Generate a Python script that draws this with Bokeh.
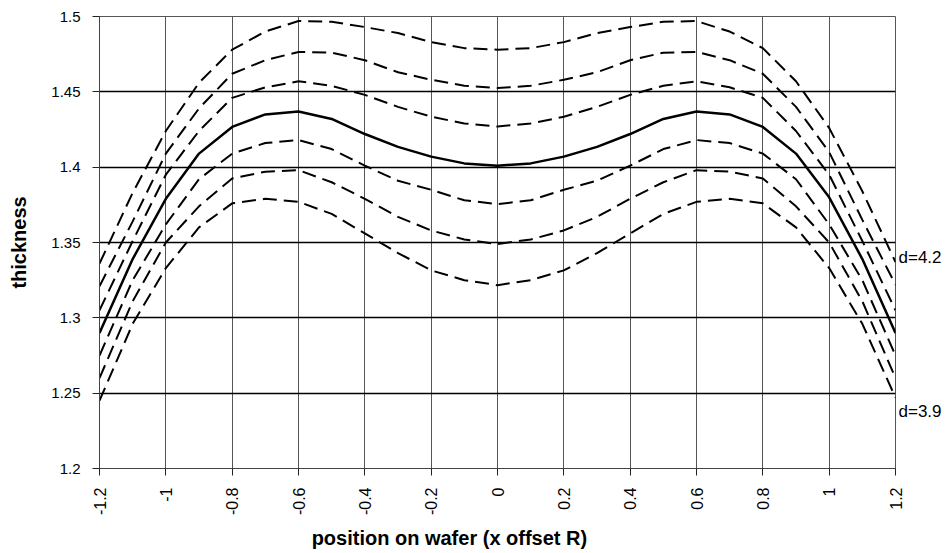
import math
from bokeh.plotting import figure
from bokeh.models import Range1d, FixedTicker, LinearAxis
from bokeh.embed import file_html
from bokeh.resources import INLINE

# ---- data ----
position = [-1.2, -1.1, -1.0, -0.9, -0.8, -0.7, -0.6, -0.5, -0.4, -0.3, -0.2, -0.1, 0.0,
            0.1, 0.2, 0.3, 0.4, 0.5, 0.6, 0.7, 0.8, 0.9, 1.0, 1.1, 1.2]

thickness_d420 = [1.336, 1.383, 1.424, 1.456, 1.478, 1.490, 1.497, 1.4965, 1.493, 1.489, 1.483, 1.479, 1.478,
                  1.479, 1.483, 1.489, 1.493, 1.4965, 1.497, 1.490, 1.479, 1.457, 1.426, 1.384, 1.337]
thickness_d415 = [1.321, 1.364, 1.409, 1.439, 1.462, 1.471, 1.4765, 1.476, 1.471, 1.463, 1.458, 1.454, 1.4525,
                  1.454, 1.458, 1.463, 1.471, 1.476, 1.4765, 1.471, 1.462, 1.440, 1.410, 1.365, 1.322]
thickness_d410 = [1.305, 1.351, 1.395, 1.424, 1.446, 1.453, 1.457, 1.454, 1.448, 1.440, 1.4335, 1.429, 1.427,
                  1.429, 1.4335, 1.440, 1.448, 1.454, 1.457, 1.453, 1.446, 1.424, 1.395, 1.351, 1.305]
thickness_d405 = [1.290, 1.339, 1.379, 1.409, 1.4267, 1.435, 1.437, 1.432, 1.422, 1.4135, 1.407, 1.4025, 1.401,
                  1.4025, 1.407, 1.4135, 1.422, 1.432, 1.437, 1.435, 1.4267, 1.409, 1.380, 1.339, 1.290]
thickness_d400 = [1.275, 1.325, 1.362, 1.392, 1.409, 1.416, 1.418, 1.412, 1.401, 1.391, 1.385, 1.378, 1.3755,
                  1.378, 1.385, 1.391, 1.401, 1.412, 1.418, 1.416, 1.409, 1.392, 1.362, 1.325, 1.275]
thickness_d395 = [1.260, 1.311, 1.350, 1.374, 1.3925, 1.397, 1.398, 1.390, 1.379, 1.367, 1.358, 1.352, 1.349,
                  1.352, 1.358, 1.367, 1.379, 1.390, 1.398, 1.397, 1.3925, 1.374, 1.350, 1.311, 1.260]
thickness_d390 = [1.245, 1.296, 1.333, 1.360, 1.376, 1.379, 1.377, 1.369, 1.356, 1.343, 1.3315, 1.325, 1.3217,
                  1.325, 1.3315, 1.343, 1.356, 1.369, 1.377, 1.379, 1.376, 1.360, 1.333, 1.296, 1.247]

x_ticks = [-1.2, -1, -0.8, -0.6, -0.4, -0.2, 0, 0.2, 0.4, 0.6, 0.8, 1, 1.2]
x_tick_labels = ["-1.2", "-1", "-0.8", "-0.6", "-0.4", "-0.2", "0", "0.2", "0.4", "0.6", "0.8", "1", "1.2"]
y_ticks = [1.2, 1.25, 1.3, 1.35, 1.4, 1.45, 1.5]
y_tick_labels = ["1.2", "1.25", "1.3", "1.35", "1.4", "1.45", "1.5"]
curve_labels = ["d=4.2", "d=3.9"]

FONT = "Liberation Sans"

W, H = 945, 553
p = figure(width=W, height=H, output_backend="svg", toolbar_location=None,
           x_range=Range1d(-1.2, 1.2), y_range=Range1d(1.2, 1.5),
           min_border_left=99, min_border_right=W - 895, min_border_top=16, min_border_bottom=H - 468)

p.background_fill_color = "white"
p.border_fill_color = "white"
p.outline_line_color = "#555555"
p.outline_line_width = 1

# axes
p.xaxis.ticker = FixedTicker(ticks=x_ticks)
p.xaxis.major_label_overrides = {t: l for t, l in zip(x_ticks, x_tick_labels)}
p.yaxis.ticker = FixedTicker(ticks=y_ticks)
p.yaxis.major_label_overrides = {t: l for t, l in zip(y_ticks, y_tick_labels)}

for ax in (p.xaxis[0], p.yaxis[0]):
    ax.major_tick_out = 7
    ax.major_tick_in = 0
    ax.minor_tick_out = 0
    ax.minor_tick_in = 0
    ax.major_tick_line_color = "#222222"
    ax.axis_line_color = "#444444"
    ax.major_label_text_font = FONT
    ax.major_label_text_color = "black"

p.yaxis.major_label_text_font_size = "15px"
p.xaxis.major_label_text_font_size = "16px"
p.xaxis.major_label_orientation = math.pi / 2
p.xaxis.major_label_standoff = 12
p.yaxis.major_label_standoff = 12

p.yaxis.axis_label = "thickness"
p.yaxis.axis_label_text_font = FONT
p.yaxis.axis_label_text_font_style = "bold"
p.yaxis.axis_label_text_font_size = "20px"
p.yaxis.axis_label_text_color = "black"
p.yaxis.axis_label_standoff = 18

# x axis title, placed as the single label of a second (bare) bottom axis
title_axis = LinearAxis(ticker=FixedTicker(ticks=[-0.145]),
                        major_label_overrides={-0.145: "position on wafer (x offset R)"},
                        major_tick_out=0, major_tick_in=0, minor_tick_out=0, minor_tick_in=0,
                        axis_line_color=None, major_label_standoff=8,
                        major_label_text_font=FONT, major_label_text_font_style="bold",
                        major_label_text_font_size="20px", major_label_text_color="black")
p.add_layout(title_axis, "below")

# curve end labels on a bare right axis
label_axis = LinearAxis(ticker=FixedTicker(ticks=[1.34, 1.238]),
                        major_label_overrides={1.34: curve_labels[0], 1.238: curve_labels[1]},
                        major_tick_out=0, major_tick_in=0, minor_tick_out=0, minor_tick_in=0,
                        axis_line_color=None, major_label_standoff=3,
                        major_label_text_font=FONT, major_label_text_font_size="17px",
                        major_label_text_color="black")
p.add_layout(label_axis, "right")

# grid
p.xgrid.grid_line_color = "#555555"
p.xgrid.grid_line_width = 1
p.ygrid.grid_line_color = "black"
p.ygrid.grid_line_width = 1.5

# curves
dash = "14 7"
for series in (thickness_d420, thickness_d415, thickness_d410):
    p.line(position, series, line_color="black", line_width=2, line_dash=dash)
p.line(position, thickness_d405, line_color="black", line_width=2.5)
for series in (thickness_d400, thickness_d395, thickness_d390):
    p.line(position, series, line_color="black", line_width=2, line_dash=dash)

open("out.html", "w").write(file_html(p, INLINE))
